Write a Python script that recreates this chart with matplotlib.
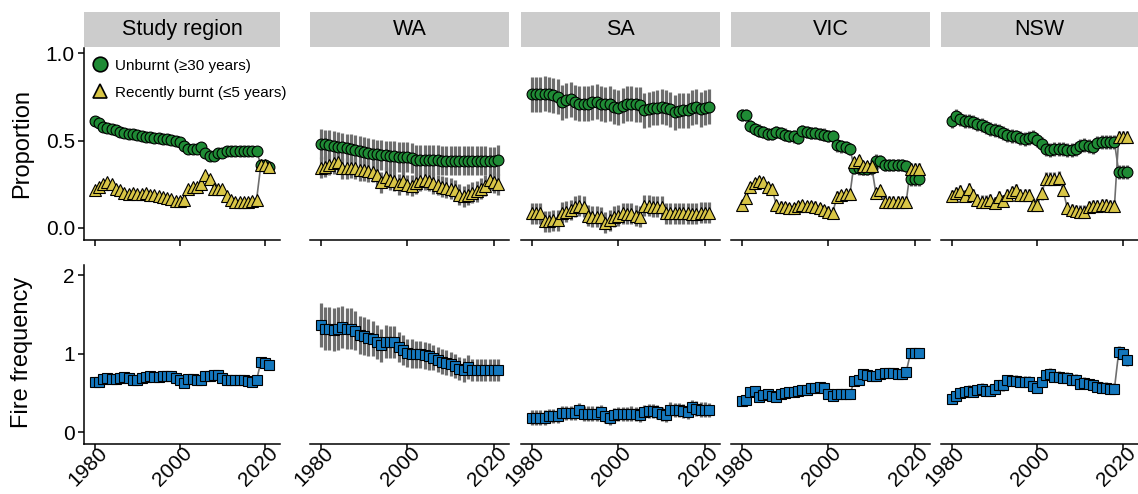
import matplotlib
matplotlib.use("Agg")
from matplotlib import pyplot as plt
from matplotlib.lines import Line2D
from matplotlib.transforms import ScaledTranslation

plt.rcParams['font.family'] = ['Liberation Sans', 'DejaVu Sans']

years = list(range(1980, 2022))
regions = ["Study region", "WA", "SA", "VIC", "NSW"]

# proportion unburnt for >= 30 years
sr_unburnt = [0.61, 0.60, 0.58, 0.57, 0.565, 0.56, 0.55, 0.545, 0.54, 0.535,
              0.53, 0.525, 0.52, 0.52, 0.515, 0.515, 0.51, 0.51, 0.505, 0.50,
              0.49, 0.47, 0.45, 0.45, 0.45, 0.46, 0.43, 0.41, 0.41, 0.43,
              0.43, 0.44, 0.44, 0.44, 0.44, 0.44, 0.44, 0.44, 0.44, 0.36,
              0.36, 0.35]
wa_unburnt = [0.48, 0.478, 0.475, 0.47, 0.465, 0.46, 0.455, 0.45, 0.445, 0.44,
              0.435, 0.43, 0.425, 0.42, 0.418, 0.415, 0.41, 0.41, 0.405, 0.405,
              0.405, 0.40, 0.39, 0.39, 0.39, 0.39, 0.39, 0.39, 0.385, 0.385,
              0.385, 0.385, 0.385, 0.385, 0.385, 0.385, 0.385, 0.385, 0.385, 0.38,
              0.38, 0.39]
sa_unburnt = [0.765, 0.765, 0.765, 0.769, 0.765, 0.759, 0.75, 0.718, 0.731, 0.737,
              0.718, 0.712, 0.712, 0.712, 0.718, 0.723, 0.712, 0.708, 0.712, 0.693,
              0.689, 0.699, 0.712, 0.712, 0.708, 0.705, 0.674, 0.68, 0.686, 0.689,
              0.693, 0.689, 0.68, 0.661, 0.67, 0.674, 0.674, 0.689, 0.693, 0.68,
              0.689, 0.693]
vic_unburnt = [0.646, 0.646, 0.585, 0.566, 0.557, 0.547, 0.538, 0.538, 0.547, 0.542,
               0.534, 0.528, 0.523, 0.515, 0.553, 0.547, 0.542, 0.542, 0.538, 0.534,
               0.528, 0.523, 0.472, 0.466, 0.462, 0.453, 0.345, 0.34, 0.335, 0.335,
               0.34, 0.385, 0.38, 0.36, 0.36, 0.36, 0.36, 0.36, 0.355, 0.277,
               0.277, 0.277]
nsw_unburnt = [0.614, 0.642, 0.623, 0.614, 0.610, 0.604, 0.595, 0.591, 0.580, 0.566,
               0.561, 0.553, 0.542, 0.534, 0.528, 0.523, 0.515, 0.509, 0.515, 0.519,
               0.504, 0.481, 0.453, 0.447, 0.453, 0.453, 0.453, 0.447, 0.447, 0.453,
               0.47, 0.477, 0.466, 0.462, 0.485, 0.49, 0.49, 0.49, 0.49, 0.32,
               0.32, 0.32]

# proportion recently burnt (<= 5 years)
sr_burnt = [0.215, 0.235, 0.25, 0.26, 0.25, 0.225, 0.215, 0.20, 0.195, 0.20,
            0.195, 0.195, 0.20, 0.19, 0.185, 0.18, 0.175, 0.17, 0.165, 0.155,
            0.155, 0.16, 0.225, 0.235, 0.235, 0.25, 0.30, 0.28, 0.225, 0.225,
            0.22, 0.18, 0.16, 0.15, 0.15, 0.15, 0.15, 0.155, 0.16, 0.36,
            0.36, 0.35]
wa_burnt = [0.345, 0.35, 0.36, 0.37, 0.375, 0.34, 0.34, 0.345, 0.34, 0.33,
            0.33, 0.325, 0.32, 0.30, 0.26, 0.29, 0.275, 0.27, 0.25, 0.27,
            0.245, 0.24, 0.255, 0.27, 0.275, 0.27, 0.255, 0.245, 0.235, 0.23,
            0.225, 0.215, 0.19, 0.18, 0.19, 0.20, 0.21, 0.225, 0.24, 0.275,
            0.26, 0.25]
sa_burnt = [0.083, 0.083, 0.083, 0.036, 0.036, 0.042, 0.042, 0.087, 0.093, 0.102,
            0.121, 0.127, 0.121, 0.068, 0.064, 0.064, 0.061, 0.03, 0.042, 0.064,
            0.068, 0.083, 0.08, 0.08, 0.068, 0.064, 0.125, 0.125, 0.121, 0.121,
            0.121, 0.083, 0.083, 0.083, 0.083, 0.083, 0.083, 0.08, 0.08, 0.087,
            0.087, 0.087]
vic_burnt = [0.131, 0.169, 0.235, 0.254, 0.269, 0.263, 0.235, 0.22, 0.131, 0.121,
             0.117, 0.112, 0.112, 0.125, 0.131, 0.125, 0.125, 0.121, 0.112, 0.102,
             0.093, 0.087, 0.178, 0.188, 0.193, 0.193, 0.377, 0.386, 0.352, 0.352,
             0.352, 0.197, 0.216, 0.15, 0.15, 0.15, 0.15, 0.15, 0.15, 0.339,
             0.339, 0.339]
nsw_burnt = [0.182, 0.197, 0.212, 0.182, 0.22, 0.188, 0.159, 0.15, 0.15, 0.159,
             0.144, 0.174, 0.155, 0.188, 0.206, 0.216, 0.188, 0.188, 0.188, 0.131,
             0.131, 0.197, 0.282, 0.282, 0.282, 0.288, 0.216, 0.112, 0.102, 0.098,
             0.093, 0.093, 0.121, 0.125, 0.125, 0.131, 0.131, 0.125, 0.125, 0.519,
             0.519, 0.519]

# fire frequency
sr_freq = [0.641, 0.641, 0.684, 0.696, 0.684, 0.684, 0.696, 0.705, 0.696, 0.671,
           0.671, 0.696, 0.705, 0.713, 0.705, 0.705, 0.713, 0.713, 0.713, 0.696,
           0.662, 0.628, 0.684, 0.684, 0.671, 0.662, 0.713, 0.713, 0.726, 0.726,
           0.696, 0.671, 0.671, 0.671, 0.671, 0.671, 0.654, 0.641, 0.662, 0.896,
           0.883, 0.853]
wa_freq = [1.363, 1.321, 1.321, 1.308, 1.321, 1.342, 1.321, 1.321, 1.291, 1.236,
           1.223, 1.206, 1.193, 1.151, 1.108, 1.151, 1.151, 1.151, 1.087, 1.045,
           1.011, 1.002, 0.994, 0.994, 0.981, 0.968, 0.951, 0.926, 0.896, 0.883,
           0.866, 0.841, 0.811, 0.79, 0.832, 0.79, 0.79, 0.798, 0.798, 0.798,
           0.79, 0.79]
sa_freq = [0.187, 0.187, 0.187, 0.187, 0.204, 0.204, 0.204, 0.246, 0.246, 0.246,
           0.246, 0.28, 0.238, 0.238, 0.238, 0.238, 0.259, 0.204, 0.187, 0.217,
           0.229, 0.229, 0.229, 0.238, 0.229, 0.217, 0.259, 0.272, 0.272, 0.259,
           0.229, 0.217, 0.289, 0.28, 0.28, 0.272, 0.259, 0.323, 0.302, 0.289,
           0.289, 0.28]
vic_freq = [0.395, 0.408, 0.514, 0.527, 0.45, 0.471, 0.484, 0.459, 0.45, 0.484,
            0.501, 0.514, 0.514, 0.527, 0.535, 0.543, 0.569, 0.569, 0.577, 0.569,
            0.484, 0.459, 0.492, 0.492, 0.492, 0.484, 0.654, 0.662, 0.739, 0.726,
            0.713, 0.713, 0.747, 0.756, 0.756, 0.756, 0.739, 0.739, 0.768, 1.01,
            1.01, 1.01]
nsw_freq = [0.429, 0.458, 0.501, 0.514, 0.526, 0.514, 0.535, 0.556, 0.526, 0.526,
            0.556, 0.598, 0.598, 0.662, 0.654, 0.654, 0.641, 0.641, 0.641, 0.586,
            0.569, 0.641, 0.726, 0.747, 0.705, 0.705, 0.696, 0.696, 0.671, 0.671,
            0.62, 0.628, 0.611, 0.598, 0.577, 0.569, 0.569, 0.556, 0.556, 1.023,
            0.994, 0.917]

# half widths of the error bars
unburnt_err = [0.02, 0.085, 0.10, 0.035, 0.04]
burnt_err = [0.02, 0.06, 0.06, 0.03, 0.035]
freq_err = [0.06, 0.2, 0.09, 0.06, 0.07]
wa_freq_err = [0.28, 0.28, 0.27, 0.27, 0.27, 0.27, 0.26, 0.26, 0.25, 0.24,
               0.24, 0.23, 0.22, 0.22, 0.21, 0.21, 0.2, 0.2, 0.19, 0.19,
               0.18, 0.18, 0.17, 0.17, 0.17, 0.17, 0.16, 0.16, 0.16, 0.16,
               0.15, 0.15, 0.15, 0.15, 0.15, 0.14, 0.14, 0.14, 0.14, 0.14,
               0.14, 0.14]

unburnt = [sr_unburnt, wa_unburnt, sa_unburnt, vic_unburnt, nsw_unburnt]
burnt = [sr_burnt, wa_burnt, sa_burnt, vic_burnt, nsw_burnt]
freq = [sr_freq, wa_freq, sa_freq, vic_freq, nsw_freq]

green = '#1f8b35'
yellow = '#d8c546'
blue = '#1477bd'
grey = '#6e6e6e'

W, H = 1138, 494
fig = plt.figure(figsize=(W / 100, H / 100), dpi=100)


def box(x, top, w, h):
    return [x / W, 1 - (top + h) / H, w / W, h / H]


lefts = [84, 310, 521, 731, 941]
widths = [196, 199, 199, 199, 197]


def draw(ax, y, err, marker, color, ms):
    lo = [v - e for v, e in zip(y, err)]
    hi = [v + e for v, e in zip(y, err)]
    ax.vlines(years, lo, hi, color=grey, lw=2.3, zorder=1)
    ax.plot(years, y, color=grey, lw=1.2, zorder=2)
    ax.plot(years, y, marker, ms=ms, mfc=color, mec='black', mew=0.8,
            ls='none', zorder=3)


def style(ax, first, bottom):
    for s in ['top', 'right']:
        ax.spines[s].set_visible(False)
    ax.spines['bottom'].set_linewidth(1.1)
    ax.spines['left'].set_linewidth(1.1)
    ax.set_xlim(1977.5, 2023.5)
    ax.set_xticks([1980, 2000, 2020])
    ax.tick_params(length=4, width=1.1, labelsize=15, pad=2.5)
    if not first:
        ax.spines['left'].set_visible(False)
        ax.tick_params(axis='y', left=False, labelleft=False)
    if bottom:
        ax.tick_params(axis='x', pad=0)
        labels = ax.set_xticklabels(['1980', '2000', '2020'], rotation=45,
                                    ha='right', va='top', rotation_mode='anchor')
        shift = ScaledTranslation(0.03, 0.06, fig.dpi_scale_trans)
        for lab in labels:
            lab.set_transform(lab.get_transform() + shift)
    else:
        ax.tick_params(axis='x', labelbottom=False)


for i in range(5):
    n = len(years)
    # strip
    sx = fig.add_axes(box(lefts[i], 12, widths[i], 35))
    sx.set_facecolor('#cccccc')
    sx.set_xticks([])
    sx.set_yticks([])
    for s in sx.spines.values():
        s.set_visible(False)
    sx.text(0.5, 0.5, regions[i], ha='center', va='center', fontsize=15.5,
            transform=sx.transAxes)

    ax = fig.add_axes(box(lefts[i], 48, widths[i], 192))
    draw(ax, unburnt[i], [unburnt_err[i]] * n, 'o', green, 7.8)
    draw(ax, burnt[i], [burnt_err[i]] * n, '^', yellow, 8.2)
    ax.set_ylim(-0.07, 1.03)
    ax.set_yticks([0.0, 0.5, 1.0])
    ax.set_yticklabels(['0.0', '0.5', '1.0'])
    style(ax, i == 0, False)

    if i == 0:
        handles = [Line2D([], [], marker='o', ls='none', ms=10.5, mfc=green,
                          mec='black', mew=1.2),
                   Line2D([], [], marker='^', ls='none', ms=10.5, mfc=yellow,
                          mec='black', mew=1.2)]
        leg = ax.legend(handles, ['Unburnt (\u226530 years)',
                                  'Recently burnt (\u22645 years)'],
                        loc='upper left', bbox_to_anchor=(0.043, 0.945),
                        frameon=False, fontsize=11, handlelength=1.0,
                        handletextpad=0.5, labelspacing=0.85,
                        borderaxespad=0, borderpad=0)
        leg.set_clip_on(False)

    bx = fig.add_axes(box(lefts[i], 265, widths[i], 179))
    err = wa_freq_err if i == 1 else [freq_err[i]] * n
    draw(bx, freq[i], err, 's', blue, 6.8)
    bx.set_ylim(-0.15, 2.13)
    bx.set_yticks([0, 1, 2])
    style(bx, i == 0, True)

fig.text(22 / W, 1 - 143 / H, 'Proportion', rotation=90, ha='center',
         va='center', fontsize=17)
fig.text(22 / W, 1 - 352 / H, 'Fire frequency', rotation=90, ha='center',
         va='center', fontsize=17)

fig.savefig('out.png', dpi=100)
